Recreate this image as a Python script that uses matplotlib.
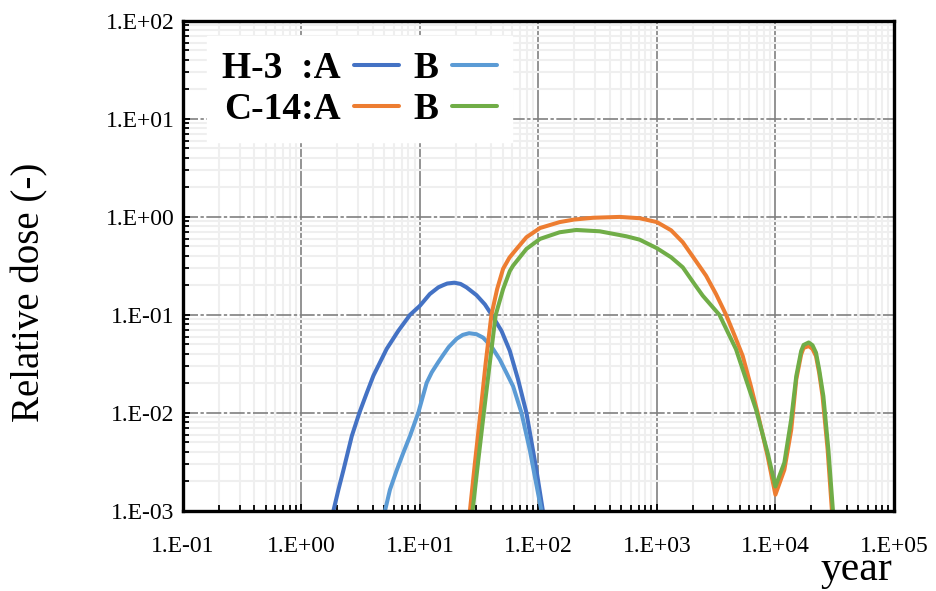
import matplotlib
matplotlib.use("Agg")
import matplotlib.pyplot as plt
from matplotlib.ticker import LogLocator, NullFormatter

plt.rcParams['font.family'] = ['Liberation Serif', 'DejaVu Serif']

# values (year, relative dose)
h3_a_year = [1.86, 2.05, 2.26, 2.66, 3.08, 3.56, 4.05, 5.24, 6.56, 8.24, 10.0, 12.1, 14.3, 15.7,
             17.0, 19.5, 22.0, 24.7, 30.0, 35.3, 40.8, 48.8, 57.3, 67.3, 79.2, 96.2, 109]
h3_a_dose = [1.0e-3, 1.64e-3, 2.6e-3, 5.8e-3, 0.010, 0.016, 0.024, 0.045, 0.0686, 0.100, 0.124,
             0.163, 0.191, 0.201, 0.209, 0.213, 0.207, 0.191, 0.159, 0.128, 0.098, 0.0686,
             0.043, 0.0219, 0.010, 2.6e-3, 1.0e-3]

h3_b_year = [5.07, 5.58, 6.37, 7.23, 8.24, 9.68, 11.4, 12.6, 14.3, 15.7, 17.5, 20.4, 23.0, 26.0,
             30.0, 34.1, 40.2, 47.2, 61.1, 71.9, 84.5, 93.1, 106]
h3_b_dose = [1.0e-3, 1.64e-3, 2.6e-3, 3.9e-3, 5.8e-3, 0.010, 0.0203, 0.026, 0.033, 0.039,
             0.047, 0.0570, 0.0625, 0.065, 0.0635, 0.0586, 0.0474, 0.035, 0.0187, 0.010,
             4.2e-3, 2.26e-3, 1.0e-3]

c14_a_year = [26.4, 29.2, 32.4, 35.9, 40.1, 44.8, 50.3, 57.0, 65.3, 79.2, 103, 151, 200, 289,
              484, 714, 1000, 1318, 1652, 2075, 2600, 3155, 3836, 4490, 5300, 6210, 7080,
              8600, 10000, 11900, 13600, 15000, 16500, 17300, 19100, 20560, 22000, 23400,
              25000, 27600, 30000]
c14_a_dose = [1.0e-3, 3.2e-3, 0.010, 0.0325, 0.100, 0.183, 0.295, 0.385, 0.470, 0.620, 0.770,
              0.885, 0.940, 0.980, 1.00, 0.970, 0.885, 0.730, 0.552, 0.372, 0.251, 0.163,
              0.100, 0.063, 0.038, 0.0187, 0.010, 3.6e-3, 1.46e-3, 2.62e-3, 6.7e-3, 0.0219,
              0.0395, 0.046, 0.048, 0.045, 0.038, 0.0257, 0.0148, 4.2e-3, 1.0e-3]

c14_b_year = [27.8, 31.0, 34.6, 38.9, 43.6, 50.3, 57.3, 61.1, 79.2, 103, 151, 209, 329, 552,
              714, 1000, 1318, 1652, 2075, 2437, 3370, 4650, 6860, 8600, 10000, 11900, 13600,
              15000, 16500, 17300, 19100, 20560, 22000, 23400, 25400, 28000, 30600]
c14_b_dose = [1.0e-3, 3.2e-3, 0.010, 0.0325, 0.100, 0.183, 0.280, 0.318, 0.471, 0.596, 0.697,
              0.736, 0.713, 0.634, 0.586, 0.479, 0.387, 0.306, 0.206, 0.157, 0.100, 0.0446,
              0.0108, 3.9e-3, 1.77e-3, 3.1e-3, 8.6e-3, 0.0237, 0.0428, 0.0493, 0.0523, 0.049,
              0.0412, 0.0278, 0.0148, 4.2e-3, 1.0e-3]

x_ticks = [1e-1, 1e0, 1e1, 1e2, 1e3, 1e4, 1e5]
x_labels = ["1.E-01", "1.E+00", "1.E+01", "1.E+02", "1.E+03", "1.E+04", "1.E+05"]
y_ticks = [1e-3, 1e-2, 1e-1, 1e0, 1e1, 1e2]
y_labels = ["1.E-03", "1.E-02", "1.E-01", "1.E+00", "1.E+01", "1.E+02"]

fig = plt.figure(figsize=(9.36, 5.91), dpi=100)
ax = fig.add_axes([0.1955, 0.1357, 0.7595, 0.8288])

lw = 2.9
kw = dict(lw=lw, solid_capstyle="round", solid_joinstyle="round")
l_h3a, = ax.plot(h3_a_year, h3_a_dose, color="#4472C4", **kw)
l_h3b, = ax.plot(h3_b_year, h3_b_dose, color="#5B9BD5", **kw)
l_c14a, = ax.plot(c14_a_year, c14_a_dose, color="#ED7D31", **kw)
l_c14b, = ax.plot(c14_b_year, c14_b_dose, color="#70AD47", **kw)

ax.set_xscale("log")
ax.set_yscale("log")
ax.set_xlim(1e-1, 1e5)
ax.set_ylim(1e-3, 1e2)

ax.set_xticks(x_ticks, x_labels)
ax.set_yticks(y_ticks, y_labels)
ax.xaxis.set_minor_locator(LogLocator(base=10, subs=range(2, 10), numticks=20))
ax.yaxis.set_minor_locator(LogLocator(base=10, subs=range(2, 10), numticks=20))
ax.xaxis.set_minor_formatter(NullFormatter())
ax.yaxis.set_minor_formatter(NullFormatter())

ax.tick_params(which="both", direction="in", top=False, right=False, width=1.3, color="black")
ax.tick_params(which="major", length=5)
ax.tick_params(which="minor", length=4)
ax.tick_params(axis="x", which="major", labelsize=17, pad=18)
ax.tick_params(axis="y", which="major", labelsize=17, pad=6)

# grid: light minor lines, grey major (vertical solid, horizontal long dash)
ax.set_axisbelow(True)
ax.grid(which="minor", color="#EFEFEF", lw=1.5)
ax.grid(which="major", axis="x", color="#808080", lw=1.2)
ax.grid(which="major", axis="y", color="#808080", lw=1.2, linestyle=(0, (9, 1.5, 2, 1.5)))

for s in ax.spines.values():
    s.set_linewidth(2.4)
    s.set_color("black")

leg = ax.legend([l_h3a, l_c14a, l_h3b, l_c14b], ["H-3  :A", "C-14:A", "B", "B"],
                ncol=2, markerfirst=False, loc="upper left", bbox_to_anchor=(0.034, 0.969),
                prop={"family": "Liberation Serif", "weight": "bold", "size": 27},
                handlelength=1.2, handletextpad=0.35, columnspacing=0.4, labelspacing=0.16,
                borderpad=0.4, frameon=True, fancybox=False, framealpha=1, borderaxespad=0)
leg.get_frame().set_edgecolor("white")
leg.get_frame().set_facecolor("white")

fig.text(30 / 936, (591 - 292) / 591, "Relative dose (-)", rotation=90, ha="center", va="center",
         fontsize=28)
fig.text(892 / 936, (591 - 580) / 591, "year", ha="right", va="baseline", fontsize=30)

fig.savefig("out.png", dpi=100)
